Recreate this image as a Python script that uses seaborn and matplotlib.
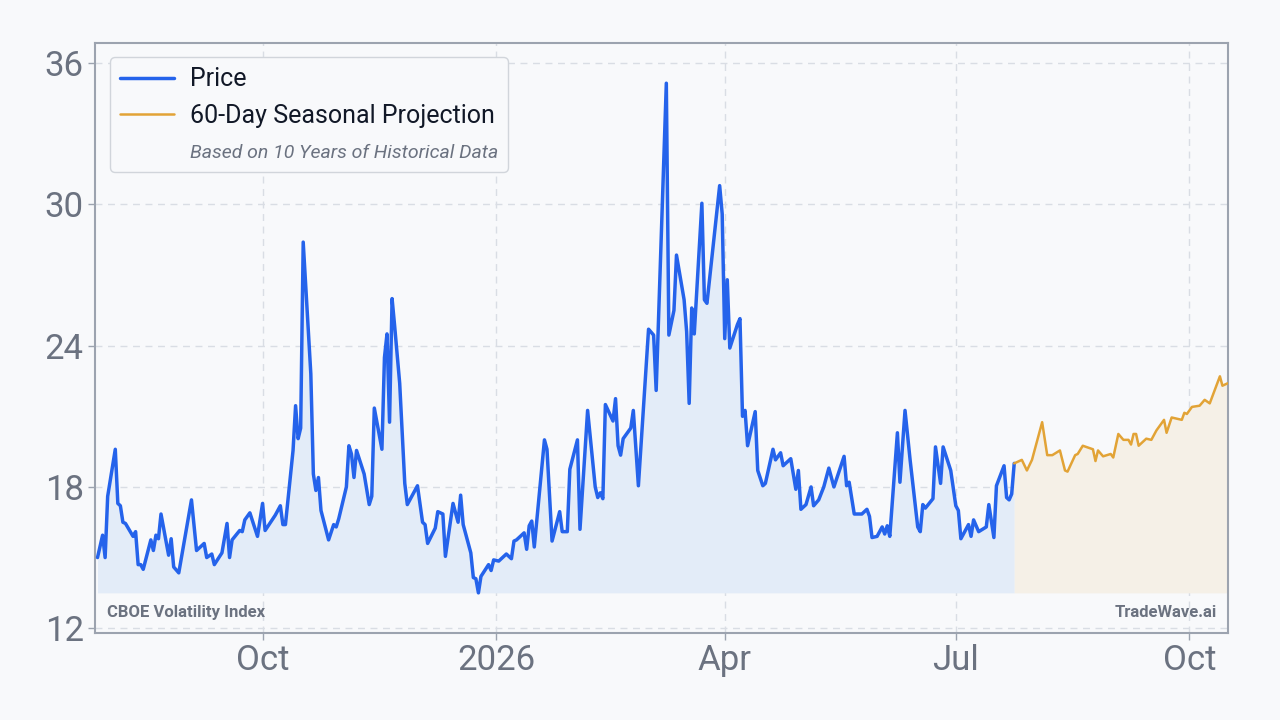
import matplotlib
matplotlib.use("Agg")
import matplotlib.pyplot as plt
import matplotlib.dates as mdates
from matplotlib.lines import Line2D
import pandas as pd
import seaborn as sns

# VIX closes (turning points)
price_dates = [
    "2025-07-28", "2025-07-30", "2025-07-31", "2025-08-01", "2025-08-04", "2025-08-05",
    "2025-08-06", "2025-08-07", "2025-08-08", "2025-08-11", "2025-08-12", "2025-08-13",
    "2025-08-14", "2025-08-15", "2025-08-18", "2025-08-19", "2025-08-20", "2025-08-21",
    "2025-08-22", "2025-08-25", "2025-08-26", "2025-08-27", "2025-08-29", "2025-09-03",
    "2025-09-05", "2025-09-08", "2025-09-09", "2025-09-11", "2025-09-12", "2025-09-15",
    "2025-09-17", "2025-09-18", "2025-09-19", "2025-09-22", "2025-09-23", "2025-09-24",
    "2025-09-26", "2025-09-29", "2025-10-01", "2025-10-02", "2025-10-06", "2025-10-08",
    "2025-10-09", "2025-10-10", "2025-10-13", "2025-10-14", "2025-10-15", "2025-10-16",
    "2025-10-17", "2025-10-20", "2025-10-21", "2025-10-22", "2025-10-23", "2025-10-24",
    "2025-10-27", "2025-10-29", "2025-10-30", "2025-10-31", "2025-11-03", "2025-11-04",
    "2025-11-05", "2025-11-06", "2025-11-07", "2025-11-10", "2025-11-12", "2025-11-13",
    "2025-11-14", "2025-11-17", "2025-11-18", "2025-11-19", "2025-11-20", "2025-11-21",
    "2025-11-22", "2025-11-24", "2025-11-26", "2025-11-27", "2025-12-01", "2025-12-03",
    "2025-12-04", "2025-12-05", "2025-12-08", "2025-12-09", "2025-12-11", "2025-12-12",
    "2025-12-15", "2025-12-17", "2025-12-18", "2025-12-19", "2025-12-22", "2025-12-23",
    "2025-12-24", "2025-12-25", "2025-12-26", "2025-12-29", "2025-12-30", "2025-12-31",
    "2026-01-02", "2026-01-05", "2026-01-07", "2026-01-08", "2026-01-09", "2026-01-12",
    "2026-01-13", "2026-01-14", "2026-01-15", "2026-01-16", "2026-01-20", "2026-01-21",
    "2026-01-23", "2026-01-26", "2026-01-27", "2026-01-29", "2026-01-30", "2026-02-02",
    "2026-02-03", "2026-02-06", "2026-02-09", "2026-02-10", "2026-02-11", "2026-02-12",
    "2026-02-13", "2026-02-16", "2026-02-17", "2026-02-18", "2026-02-19", "2026-02-20",
    "2026-02-23", "2026-02-24", "2026-02-26", "2026-03-02", "2026-03-04", "2026-03-05",
    "2026-03-09", "2026-03-10", "2026-03-12", "2026-03-13", "2026-03-16", "2026-03-17",
    "2026-03-18", "2026-03-19", "2026-03-20", "2026-03-23", "2026-03-24", "2026-03-25",
    "2026-03-30", "2026-03-31", "2026-04-01", "2026-04-02", "2026-04-03", "2026-04-06",
    "2026-04-07", "2026-04-08", "2026-04-09", "2026-04-10", "2026-04-13", "2026-04-14",
    "2026-04-16", "2026-04-17", "2026-04-20", "2026-04-21", "2026-04-23", "2026-04-24",
    "2026-04-27", "2026-04-29", "2026-04-30", "2026-05-01", "2026-05-03", "2026-05-05",
    "2026-05-06", "2026-05-08", "2026-05-10", "2026-05-12", "2026-05-14", "2026-05-18",
    "2026-05-19", "2026-05-20", "2026-05-22", "2026-05-25", "2026-05-27", "2026-05-28",
    "2026-05-29", "2026-05-31", "2026-06-02", "2026-06-03", "2026-06-04", "2026-06-05",
    "2026-06-08", "2026-06-09", "2026-06-11", "2026-06-13", "2026-06-16", "2026-06-17",
    "2026-06-18", "2026-06-19", "2026-06-22", "2026-06-23", "2026-06-25", "2026-06-26",
    "2026-06-29", "2026-07-01", "2026-07-02", "2026-07-03", "2026-07-06", "2026-07-07",
    "2026-07-08", "2026-07-10", "2026-07-13", "2026-07-14", "2026-07-16", "2026-07-17",
    "2026-07-20", "2026-07-21", "2026-07-22", "2026-07-23", "2026-07-24",
]
price_values = [
    15.0, 15.95, 15.0, 17.6, 19.6, 17.3,
    17.2, 16.5, 16.45, 15.9, 16.1, 14.7,
    14.7, 14.5, 15.75, 15.3, 15.95, 15.8,
    16.85, 15.1, 15.8, 14.6, 14.35, 17.45,
    15.3, 15.6, 15.0, 15.15, 14.7, 15.2,
    16.45, 15.0, 15.75, 16.15, 16.1, 16.6,
    16.9, 15.9, 17.3, 16.15, 16.8, 17.2,
    16.4, 16.4, 19.55, 21.45, 20.05, 20.5,
    28.4, 22.8, 18.55, 17.85, 18.4, 17.0,
    15.75, 16.4, 16.3, 16.65, 18.0, 19.75,
    19.4, 18.4, 19.55, 18.55, 17.25, 17.6,
    21.35, 19.6, 23.5, 24.5, 20.75, 26.0,
    24.85, 22.4, 18.15, 17.25, 18.05, 16.5,
    16.4, 15.6, 16.25, 16.95, 16.85, 15.05,
    17.3, 16.5, 17.65, 16.4, 15.2, 14.15,
    14.1, 13.5, 14.2, 14.7, 14.45, 14.9,
    14.85, 15.15, 14.95, 15.7, 15.75, 16.05,
    15.35, 16.35, 16.55, 15.45, 20.0, 19.6,
    15.7, 16.95, 16.1, 16.1, 18.75, 20.0,
    16.2, 21.25, 18.0, 17.55, 17.75, 17.5,
    21.5, 20.8, 21.75, 19.75, 19.35, 20.05,
    20.5, 21.25, 18.05, 24.7, 24.45, 22.1,
    35.15, 24.45, 25.5, 27.85, 25.95, 24.6,
    21.55, 25.6, 24.5, 30.05, 25.95, 25.8,
    30.8, 29.6, 24.3, 26.8, 23.9, 24.9,
    25.15, 21.0, 21.25, 19.75, 21.2, 18.7,
    18.05, 18.15, 19.6, 19.15, 19.45, 18.9,
    19.2, 17.9, 18.7, 17.05, 17.25, 18.0,
    17.2, 17.45, 18.0, 18.8, 18.0, 19.3,
    18.05, 18.2, 16.85, 16.85, 17.05, 16.75,
    15.85, 15.9, 16.3, 16.0, 16.35, 15.9,
    20.3, 18.2, 21.25, 19.15, 16.3, 16.1,
    17.25, 17.1, 17.5, 19.7, 18.15, 19.7,
    18.7, 17.2, 17.0, 15.8, 16.4, 15.9,
    16.6, 16.1, 16.3, 17.25, 15.85, 18.05,
    18.9, 17.55, 17.45, 17.7, 19.0,
]

# 60-day seasonal projection
proj_dates = [
    "2026-07-24", "2026-07-27", "2026-07-29", "2026-07-31", "2026-08-04", "2026-08-06",
    "2026-08-08", "2026-08-11", "2026-08-13", "2026-08-14", "2026-08-17", "2026-08-18",
    "2026-08-20", "2026-08-24", "2026-08-25", "2026-08-26", "2026-08-28", "2026-08-31",
    "2026-09-01", "2026-09-03", "2026-09-05", "2026-09-07", "2026-09-08", "2026-09-09",
    "2026-09-10", "2026-09-11", "2026-09-14", "2026-09-16", "2026-09-18", "2026-09-21",
    "2026-09-22", "2026-09-24", "2026-09-28", "2026-09-29", "2026-09-30", "2026-10-02",
    "2026-10-05", "2026-10-07", "2026-10-09", "2026-10-13", "2026-10-14", "2026-10-16",
]
proj_values = [
    19.0, 19.15, 18.7, 19.15, 20.75, 19.35,
    19.35, 19.55, 18.7, 18.65, 19.35, 19.4,
    19.75, 19.6, 19.1, 19.55, 19.3, 19.4,
    19.25, 20.25, 20.0, 20.0, 19.8, 20.25,
    20.25, 19.75, 20.05, 20.0, 20.4, 20.85,
    20.3, 20.95, 20.85, 21.15, 21.1, 21.4,
    21.45, 21.7, 21.55, 22.7, 22.3, 22.4,
]

y_ticks = [12, 18, 24, 30, 36]

price = pd.DataFrame({"Date": pd.to_datetime(price_dates), "Value": price_values})
proj = pd.DataFrame({"Date": pd.to_datetime(proj_dates), "Value": proj_values})

BG = "#f8f9fb"
BLUE = "#2563eb"
AMBER = "#e2a336"
GRAY = "#6b7280"

sns.set_style("whitegrid", {
    "axes.facecolor": BG,
    "figure.facecolor": BG,
    "axes.edgecolor": "#9ca3af",
    "grid.color": "#d9dde4",
    "grid.linestyle": (0, (5, 4)),
    "xtick.bottom": True,
    "ytick.left": True,
})
plt.rcParams["font.family"] = ["Roboto", "DejaVu Sans"]

fig, ax = plt.subplots(figsize=(12.8, 7.2), dpi=100)
fig.subplots_adjust(left=0.0742, right=0.959, top=0.940, bottom=0.121)

base = min(price_values)
ax.fill_between(price["Date"], price["Value"], base, color="#e3ecf8", lw=0, zorder=1)
ax.fill_between(proj["Date"], proj["Value"], base, color="#f5f0e7", lw=0, zorder=1)
sns.lineplot(data=price, x="Date", y="Value", ax=ax, color=BLUE, linewidth=2.5, zorder=3)
sns.lineplot(data=proj, x="Date", y="Value", ax=ax, color=AMBER, linewidth=1.8, zorder=3)

ax.set_xlim(pd.Timestamp("2025-07-27"), pd.Timestamp("2026-10-16"))
ax.set_ylim(11.8, 36.85)
ax.set_yticks(y_ticks)
ax.xaxis.set_major_locator(mdates.MonthLocator(bymonth=[1, 4, 7, 10]))
ax.xaxis.set_major_formatter(
    plt.FuncFormatter(lambda v, p: mdates.num2date(v).strftime("%Y" if mdates.num2date(v).month == 1 else "%b"))
)
ax.set_xlabel("")
ax.set_ylabel("")
ax.grid(True, lw=1)
ax.tick_params(axis="both", labelsize=25, colors="#9ca3af", labelcolor=GRAY, length=5, width=1)
ax.tick_params(axis="x", pad=3)
ax.tick_params(axis="y", pad=3)
for s in ax.spines.values():
    s.set_linewidth(1.5)
    s.set_color("#9ca3af")

handles = [
    Line2D([], [], color=BLUE, lw=2.5),
    Line2D([], [], color=AMBER, lw=1.8),
    Line2D([], [], color="none"),
]
labels = ["Price", "60-Day Seasonal Projection", "Based on 10 Years of Historical Data"]
leg = ax.legend(handles, labels, loc="upper left", bbox_to_anchor=(0.0132, 0.976),
                borderaxespad=0, fontsize=18, handlelength=2.15, handletextpad=0.65,
                labelspacing=0.5, frameon=True, fancybox=True, borderpad=0.4)
leg.get_frame().set_facecolor(BG)
leg.get_frame().set_edgecolor("#d1d5db")
leg.get_frame().set_alpha(1)
for t in leg.get_texts()[:2]:
    t.set_color("#111827")
note = leg.get_texts()[2]
note.set_fontsize(14)
note.set_fontstyle("italic")
note.set_color(GRAY)

ax.text(0.0106, 0.034, "CBOE Volatility Index", transform=ax.transAxes, fontsize=12,
        fontweight="bold", color=GRAY, va="center", ha="left")
ax.text(0.9903, 0.034, "TradeWave.ai", transform=ax.transAxes, fontsize=12,
        fontweight="bold", color=GRAY, va="center", ha="right")

fig.savefig("out.png", dpi=100, facecolor=BG)
